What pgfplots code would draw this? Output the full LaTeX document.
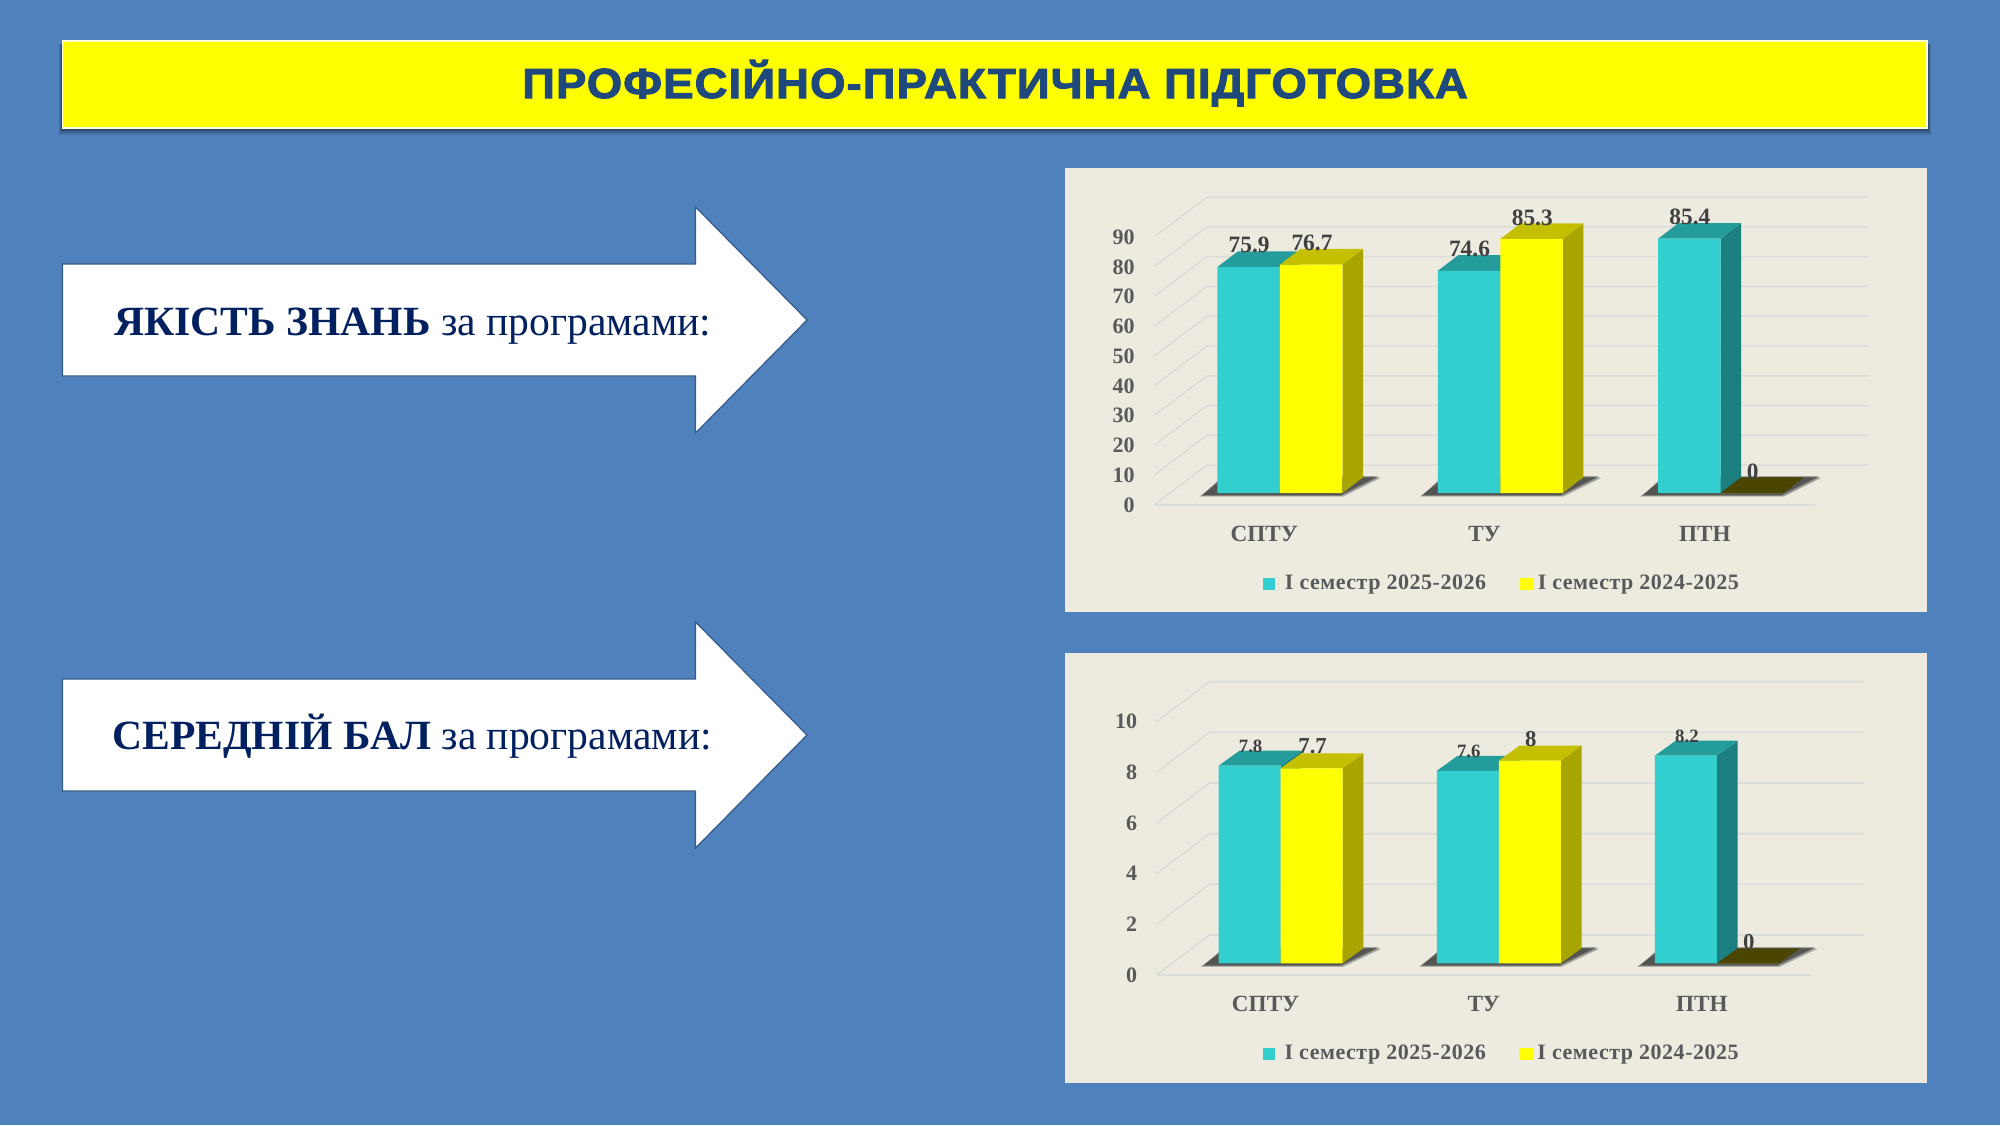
\documentclass[border=0pt]{standalone}
\usepackage{pgfplots}
\pgfplotsset{compat=1.18}
\usepackage{fontspec}
\setmainfont{Liberation Serif}
\newfontfamily\titlefont{Liberation Sans}[BoldFeatures={FakeStretch=1.08,FakeBold=2.6,LetterSpace=2.8}]
\definecolor{bgblue}{HTML}{4F81BD}
\definecolor{panel}{HTML}{EDEBE0}
\definecolor{navy}{HTML}{002060}
\definecolor{titleblue}{HTML}{1F497D}
\definecolor{teal}{HTML}{33CFCF}
\definecolor{tealtop}{HTML}{259C9C}
\definecolor{tealside}{HTML}{1C8080}
\definecolor{yel}{HTML}{FFFF00}
\definecolor{yeltop}{HTML}{C4C000}
\definecolor{yelside}{HTML}{A8A400}
\definecolor{zerotop}{HTML}{4A4500}
\definecolor{gridc}{HTML}{DCDCD8}
\newcommand{\fs}[1]{\fontsize{#1}{#1}\selectfont}

% 1px of the slide = 0.5pt
\pgfplotsset{
  wall/.style={
    scale only axis, clip=false, xmin=-0.5, xmax=2.5, ymin=0,
    axis line style={draw=none}, major tick length=0pt,
    xtick={0,1,2}, xticklabels={СПТУ,ТУ,ПТН},
    /pgf/number format/assume math mode=true,
    ticklabel style={font=\bfseries\fs{11}, text=black!65},
    xticklabel style={anchor=center, inner sep=0pt, yshift=-14.4pt, font=\bfseries\fs{11.6}},
    yticklabel style={anchor=east, inner sep=0pt, xshift=-9.5pt},
  },
  bars/.style={
    scale only axis, clip=false, hide axis, xmin=-0.5, xmax=2.5, ymin=0,
    /pgf/number format/assume math mode=true,
    legend columns=2,
    legend cell align=left,
    legend style={draw=none, fill=none, inner sep=0pt,
      font=\bfseries\fs{11}\addfontfeatures{LetterSpace=2.4}, text=black!65,
      /tikz/every even column/.append style={column sep=14.8pt}},
  },
  front/.style={ybar, bar width=\bw pt, draw=none, nodes near coords,
    every node near coord/.append style={anchor=center, inner sep=0pt, text=black!75}},
  key teal/.style={legend image code/.code={\fill[##1] (0pt,-3pt) rectangle (6pt,3pt); \path (9pt,0pt);}},
  key yellow/.style={legend image code/.code={\fill[##1] (0pt,-3pt) rectangle (7pt,3pt);}},
}

% floor and wall lines for one value level
\newcommand{\gridlevel}[1]{%
  \pgfmathsetmacro\wy{#1+\wallY}
  \addplot[forget plot, gridc, line width=0.8pt] coordinates {(-0.5,#1)(\wallX-0.5,\wy)(\wallX+2.5,\wy)};
}
% soft shadow on the floor under a group
\newcommand{\floorshadow}[2]{%
  \foreach \g/\o in {3/.3,1.5/.35,0/.6}{
    \pgfmathsetmacro\sa{#1-(15+\g)/\xu}
    \pgfmathsetmacro\sb{#2+(\g-2)/\xu}
    \pgfmathsetmacro\sc{#2+(\dpx+15+\g)/\xu}
    \pgfmathsetmacro\sd{#1+(\dpx-15+\g)/\xu}
    \pgfmathsetmacro\sy{-(2+\g/2)/\yu}
    \pgfmathsetmacro\st{(\dpy+1-\g/2)/\yu}
    \edef\tmp{\noexpand\addplot[forget plot, draw=none, fill=black!80, opacity=\o] coordinates
      {(\sa,\sy)(\sb,\sy)(\sc,\st)(\sd,\st)} --cycle;}
    \tmp
  }
}
% top and side faces of a bar
\newcommand{\faces}[4]{%
  \pgfmathsetmacro\xa{#1}
  \pgfmathsetmacro\xb{#1+\bwd}
  \pgfmathsetmacro\xc{\xb+\dpx/\xu}
  \pgfmathsetmacro\xd{\xa+\dpx/\xu}
  \pgfmathsetmacro\yt{#2+\dpy/\yu}
  \pgfmathsetmacro\yb{\dpy/\yu}
  \addplot[forget plot, draw=none, fill=#4] coordinates {(\xb,0)(\xc,\yb)(\xc,\yt)(\xb,#2)} --cycle;
  \addplot[forget plot, draw=none, fill=#3] coordinates {(\xa,#2)(\xb,#2)(\xc,\yt)(\xd,\yt)} --cycle;
}

\begin{document}
\begin{tikzpicture}
\begin{scope}[x=0.5pt,y=-0.5pt]
  \fill[bgblue] (0,0) rectangle (2000,1125);
  \path[use as bounding box] (0,0) rectangle (2000,1125);
  % title band
  \foreach \g/\o in {7/.12,5/.15,3/.2}{\fill[black,opacity=\o] (62-\g/2,44) rectangle (1927+\g/2,128+\g);}
  \draw[fill=yel,draw=white!85!yellow,line width=0.6pt] (62.5,41) rectangle (1927,128);
  \node[anchor=base,inner sep=0pt,text=titleblue,font=\titlefont\bfseries\fs{21}] at (995,98) {ПРОФЕСІЙНО-ПРАКТИЧНА ПІДГОТОВКА};
  % arrows
  \foreach \s in {0,415}{
    \draw[fill=white,draw=titleblue!90!white,line width=0.6pt]
      (62.5,264+\s) -- (695.5,264+\s) -- (695.5,207+\s) -- (807,320+\s) -- (695.5,433+\s) -- (695.5,376+\s) -- (62.5,376+\s) -- cycle;
  }
  \node[anchor=base west,inner sep=0pt,text=navy,font=\fs{20.8}] at (114,335) {\textbf{ЯКІСТЬ ЗНАНЬ} за програмами:};
  \node[anchor=base west,inner sep=0pt,text=navy,font=\fs{20.8}] at (112,749) {\textbf{СЕРЕДНІЙ БАЛ} за програмами:};
  % chart panels
  \fill[panel] (1065,168) rectangle (1927,612);
  \fill[panel] (1065,653) rectangle (1927,1083);
\end{scope}

% ---------- upper chart: wall
\begin{axis}[wall, at={(577pt,-252.5pt)}, width=330.5pt, height=134pt, ymax=90, ytick={0,10,...,90}]
  \def\wallX{0.2406}\def\wallY{13.42}
  \pgfplotsinvokeforeach{0,10,...,90}{\gridlevel{#1}}
  \addplot[forget plot, gridc, line width=0.8pt] coordinates {(-0.5,0)(2.5,0)};
\end{axis}
% upper chart: bars
\begin{axis}[bars, at={(584.9pt,-246.5pt)}, width=330.5pt, height=134pt, ymax=90,
    legend style={at={(0.504,-0.340)}, anchor=center}]
  \def\xu{220.3}\def\yu{2.98}\def\dpx{20.5}\def\dpy{15.7}\def\bwd{0.284}\def\bw{31.25}
  \floorshadow{-0.284}{0.284}
  \floorshadow{0.716}{1.284}
  \floorshadow{1.716}{2.284}
  \faces{-0.284}{75.9}{tealtop}{tealside}
  \faces{0.716}{74.6}{tealtop}{tealside}
  \faces{1.716}{85.4}{tealtop}{tealside}
  \addplot[front, key teal, bar shift=-15.625pt, fill=teal,
    every node near coord/.append style={font=\bfseries\fs{11.7}, xshift=-15.4pt, yshift=10.8pt}]
    coordinates {(0,75.9)(1,74.6)(2,85.4)};
  \addlegendentry{І семестр 2025-2026}
  \faces{0}{76.7}{yeltop}{yelside}
  \faces{1}{85.3}{yeltop}{yelside}
  \faces{2}{0}{zerotop}{zerotop}
  \addplot[front, key yellow, bar shift=15.625pt, fill=yel,
    every node near coord/.append style={font=\bfseries\fs{11.7}, xshift=16pt, yshift=10.8pt}]
    coordinates {(0,76.7)(1,85.3)(2,0)};
  \addlegendentry{І семестр 2024-2025}
\end{axis}

% ---------- lower chart: wall
\begin{axis}[wall, at={(578.25pt,-487.5pt)}, width=327.25pt, height=126.65pt, ymax=10, ytick={0,2,...,10}]
  \def\wallX{0.2429}\def\wallY{1.579}
  \pgfplotsinvokeforeach{0,2,...,10}{\gridlevel{#1}}
  \addplot[forget plot, gridc, line width=0.8pt] coordinates {(-0.5,0)(2.5,0)};
\end{axis}
% lower chart: bars
\begin{axis}[bars, at={(585.75pt,-481.65pt)}, width=327.25pt, height=126.65pt, ymax=10,
    legend style={at={(0.506,-0.357)}, anchor=center}]
  \def\xu{218.2}\def\yu{25.33}\def\dpx{20.8}\def\dpy{15}\def\bwd{0.284}\def\bw{31}
  \floorshadow{-0.284}{0.284}
  \floorshadow{0.716}{1.284}
  \floorshadow{1.716}{2.284}
  \faces{-0.284}{7.8}{tealtop}{tealside}
  \faces{0.716}{7.6}{tealtop}{tealside}
  \faces{1.716}{8.2}{tealtop}{tealside}
  \addplot[front, key teal, bar shift=-15.5pt, fill=teal,
    every node near coord/.append style={font=\bfseries\fs{9.4}, xshift=-15pt, yshift=9.8pt}]
    coordinates {(0,7.8)(1,7.6)(2,8.2)};
  \addlegendentry{І семестр 2025-2026}
  \faces{0}{7.7}{yeltop}{yelside}
  \faces{1}{8}{yeltop}{yelside}
  \faces{2}{0}{zerotop}{zerotop}
  \addplot[front, key yellow, bar shift=15.5pt, fill=yel,
    every node near coord/.append style={font=\bfseries\fs{11.4}, xshift=16pt, yshift=10.8pt}]
    coordinates {(0,7.7)(1,8)(2,0)};
  \addlegendentry{І семестр 2024-2025}
\end{axis}
\end{tikzpicture}
\end{document}
